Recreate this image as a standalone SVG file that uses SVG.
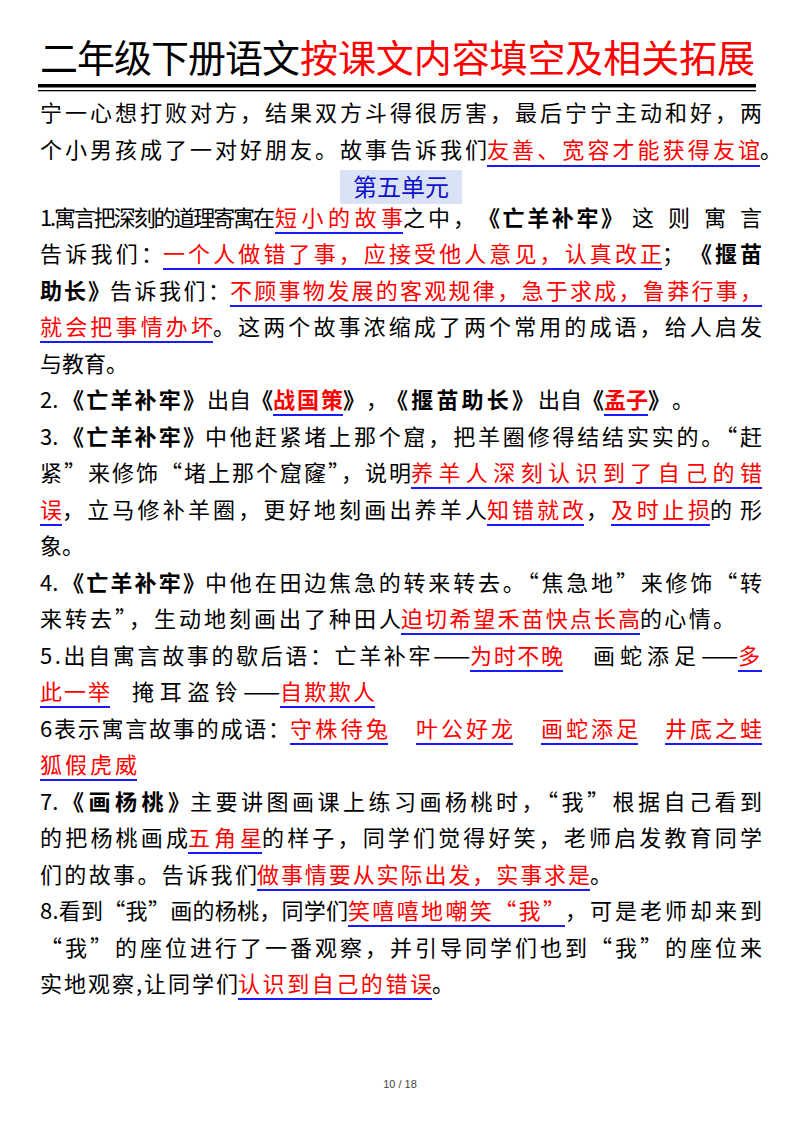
<svg xmlns="http://www.w3.org/2000/svg" width="800" height="1132" viewBox="0 0 800 1132">
<style>
text{font-family:"Noto Sans CJK SC","Noto Sans",sans-serif;font-size:22px;fill:#000}
.r{fill:#f00}
.b{font-weight:bold}
.t{font-size:38px}
.u{stroke:#1a1aff;stroke-width:2}
.f{font-size:11px;fill:#444;font-family:"Liberation Sans",sans-serif}
</style>
<rect width="800" height="1132" fill="#fff"/>
<g id="title">
<text class="t" x="40" y="72" textLength="260">二年级下册语文</text>
<text class="t r" x="300" y="72" textLength="455">按课文内容填空及相关拓展</text>
<rect x="38" y="84" width="718" height="3.5" fill="#000"/>
<rect x="38" y="90" width="718" height="1.3" fill="#000"/>
</g>
<g id="body">
<text x="40" y="121" textLength="722">宁一心想打败对方，结果双方斗得很厉害，最后宁宁主动和好，两</text>
<text x="40" y="158" textLength="447">个小男孩成了一对好朋友。故事告诉我们</text><text class="r" x="487" y="158" textLength="273">友善、宽容才能获得友谊</text><text x="760" y="158">。</text>
<rect x="340" y="170" width="122" height="34" fill="#d9e3f5"/>
<text x="401" y="196" text-anchor="middle" style="fill:#1010c8;font-size:24px">第五单元</text>

<text x="40" y="226" textLength="235">1.寓言把深刻的道理寄寓在</text><text class="r" x="275" y="226" textLength="128">短小的故事</text><text x="403" y="226" textLength="72">之中，</text><text class="b" x="478" y="226" textLength="145">《亡羊补牢》</text><text x="632" y="226" textLength="130">这则寓言</text>
<text x="40" y="262" textLength="123">告诉我们：</text><text class="r" x="163" y="262" textLength="499">一个人做错了事，应接受他人意见，认真改正</text><text x="662" y="262">；</text><text class="b" x="690" y="262" textLength="72">《揠苗</text>
<text class="b" x="40" y="299" textLength="70">助长》</text><text x="110" y="299" textLength="120">告诉我们：</text><text class="r" x="230" y="299" textLength="532">不顾事物发展的客观规律，急于求成，鲁莽行事，</text>
<text class="r" x="40" y="335" textLength="173">就会把事情办坏</text><text x="213" y="335" textLength="549">。这两个故事浓缩成了两个常用的成语，给人启发</text>
<text x="40" y="372">与教育。</text>
<text x="40" y="408">2.</text><text class="b" x="62" y="408" textLength="143">《亡羊补牢》</text><text x="207" y="408" textLength="44">出自</text><text class="b" x="251" y="408">《</text><text class="r b" x="273" y="408" textLength="70">战国策</text><text class="b" x="343" y="408">》</text><text x="366" y="408">，</text><text class="b" x="386" y="408" textLength="148">《揠苗助长》</text><text x="538" y="408" textLength="44">出自</text><text class="b" x="582" y="408">《</text><text class="r b" x="604" y="408" textLength="44">孟子</text><text class="b" x="648" y="408">》</text><text x="672" y="408">。</text>
<text x="40" y="445">3.</text><text class="b" x="62" y="445" textLength="143">《亡羊补牢》</text><text x="205" y="445" textLength="557">中他赶紧堵上那个窟，把羊圈修得结结实实的。“赶</text>
<text x="40" y="481" textLength="371">紧”来修饰“堵上那个窟窿”，说明</text><text class="r" x="411" y="481" textLength="351">养羊人深刻认识到了自己的错</text>
<text class="r" x="40" y="518">误</text><text x="62" y="518" textLength="425">，立马修补羊圈，更好地刻画出养羊人</text><text class="r" x="487" y="518" textLength="97">知错就改</text><text x="586" y="518">，</text><text class="r" x="611" y="518" textLength="99">及时止损</text><text x="710" y="518" textLength="52">的形</text>
<text x="40" y="554">象。</text>
<text x="40" y="591">4.</text><text class="b" x="62" y="591" textLength="143">《亡羊补牢》</text><text x="205" y="591" textLength="557">中他在田边焦急的转来转去。“焦急地”来修饰“转</text>
<text x="40" y="627" textLength="361">来转去”，生动地刻画出了种田人</text><text class="r" x="401" y="627" textLength="239">迫切希望禾苗快点长高</text><text x="640" y="627" textLength="95">的心情。</text>
<text x="40" y="664" textLength="430">5.出自寓言故事的歇后语：亡羊补牢——</text><text class="r" x="470" y="664" textLength="93">为时不晚</text><text x="593" y="664" textLength="145">画蛇添足——</text><text class="r" x="738" y="664">多</text>
<text class="r" x="40" y="700" textLength="70">此一举</text><text x="132" y="700" textLength="148">掩耳盗铃——</text><text class="r" x="280" y="700" textLength="95">自欺欺人</text>
<text x="40" y="737" textLength="250">6表示寓言故事的成语：</text><text class="r" x="290" y="737" textLength="98">守株待兔</text><text class="r" x="416" y="737" textLength="97">叶公好龙</text><text class="r" x="541" y="737" textLength="97">画蛇添足</text><text class="r" x="665" y="737" textLength="97">井底之蛙</text>
<text class="r" x="40" y="773" textLength="97">狐假虎威</text>
<text x="40" y="810">7.</text><text class="b" x="62" y="810" textLength="128">《画杨桃》</text><text x="190" y="810" textLength="572">主要讲图画课上练习画杨桃时，“我”根据自己看到</text>
<text x="40" y="846" textLength="148">的把杨桃画成</text><text class="r" x="188" y="846" textLength="74">五角星</text><text x="262" y="846" textLength="500">的样子，同学们觉得好笑，老师启发教育同学</text>
<text x="40" y="883" textLength="217">们的故事。告诉我们</text><text class="r" x="257" y="883" textLength="333">做事情要从实际出发，实事求是</text><text x="590" y="883">。</text>
<text x="40" y="919" textLength="308">8.看到“我”画的杨桃，同学们</text><text class="r" x="348" y="919" textLength="217">笑嘻嘻地嘲笑“我”</text><text x="565" y="919" textLength="197">，可是老师却来到</text>
<text x="40" y="956" textLength="722">“我”的座位进行了一番观察，并引导同学们也到“我”的座位来</text>
<text x="40" y="992" textLength="198">实地观察,让同学们</text><text class="r" x="238" y="992" textLength="194">认识到自己的错误</text><text x="432" y="992">。</text>
</g>
<g id="underlines" class="u">
<line x1="487" y1="166" x2="760" y2="166"/>
<line x1="275" y1="233" x2="403" y2="233"/>
<line x1="163" y1="269" x2="662" y2="269"/>
<line x1="230" y1="306" x2="762" y2="306"/>
<line x1="40" y1="342" x2="213" y2="342"/>
<line x1="273" y1="415" x2="343" y2="415"/>
<line x1="604" y1="415" x2="648" y2="415"/>
<line x1="411" y1="488" x2="762" y2="488"/>
<line x1="40" y1="525" x2="62" y2="525"/>
<line x1="487" y1="525" x2="584" y2="525"/>
<line x1="611" y1="525" x2="710" y2="525"/>
<line x1="401" y1="634" x2="640" y2="634"/>
<line x1="470" y1="671" x2="563" y2="671"/>
<line x1="738" y1="671" x2="762" y2="671"/>
<line x1="40" y1="707" x2="110" y2="707"/>
<line x1="280" y1="707" x2="375" y2="707"/>
<line x1="290" y1="744" x2="388" y2="744"/>
<line x1="416" y1="744" x2="513" y2="744"/>
<line x1="541" y1="744" x2="638" y2="744"/>
<line x1="665" y1="744" x2="762" y2="744"/>
<line x1="40" y1="780" x2="137" y2="780"/>
<line x1="188" y1="853" x2="262" y2="853"/>
<line x1="257" y1="890" x2="590" y2="890"/>
<line x1="348" y1="926" x2="565" y2="926"/>
<line x1="238" y1="999" x2="432" y2="999"/>
</g>
<text class="f" x="400" y="1088" text-anchor="middle">10 / 18</text>
</svg>
